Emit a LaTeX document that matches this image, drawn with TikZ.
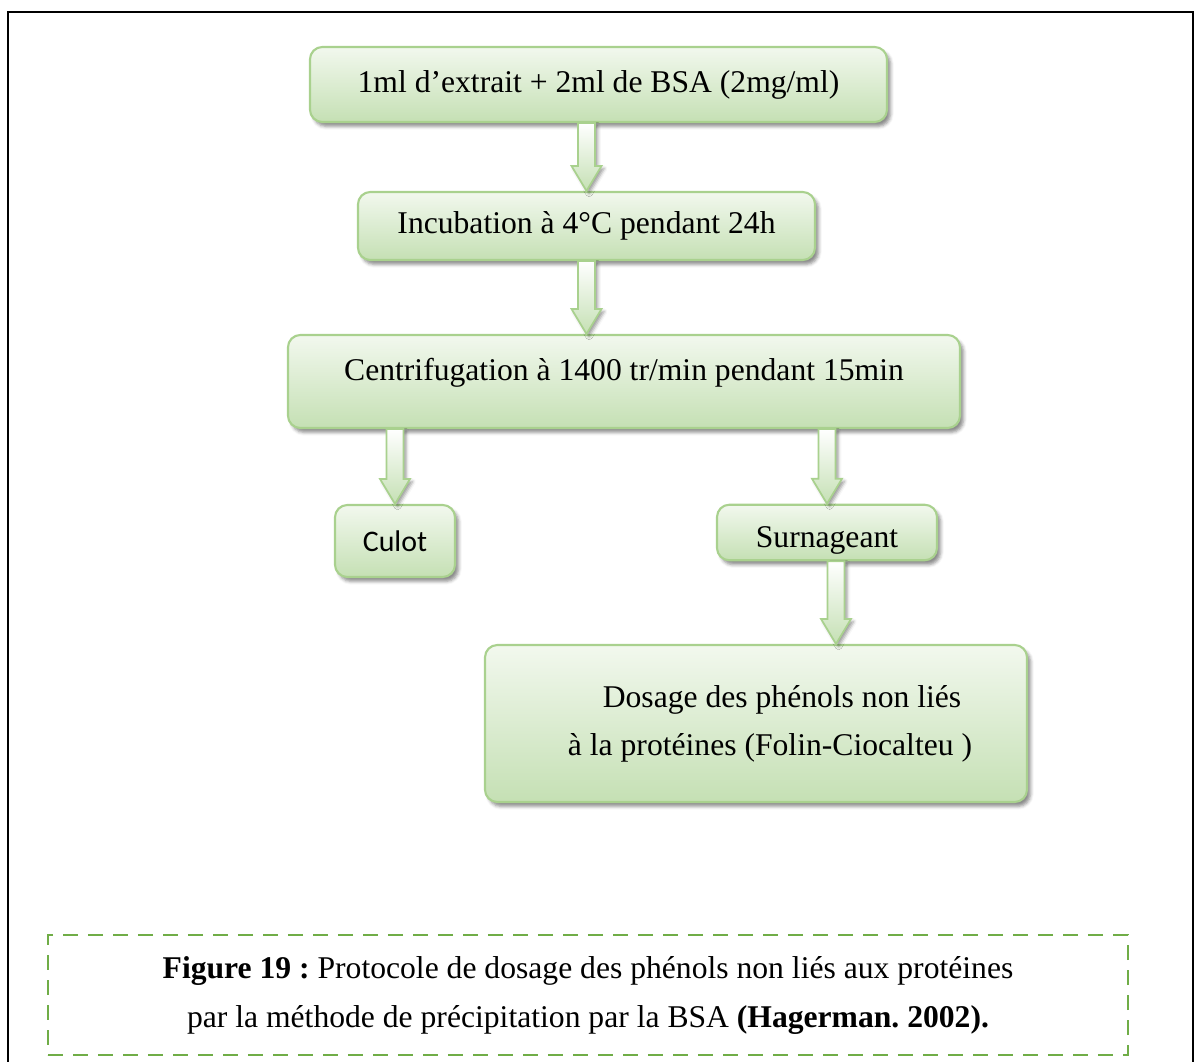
\documentclass[tikz,border=0pt]{standalone}
\usepackage{fontspec}
\setmainfont{Liberation Serif}
\newfontfamily\calibri{Carlito}
\usetikzlibrary{calc,shadows.blur}
\frenchspacing

\definecolor{boxtop}{HTML}{F2F8EE}
\definecolor{boxbot}{HTML}{C5E0B4}
\definecolor{boxline}{HTML}{A9D18E}
\definecolor{dashgreen}{HTML}{70AD47}

% block arrow between two named points
\newcommand{\flarrow}[2]{%
  \draw[arrowbox] ($(#1)+(-0.17,0)$) -- ($(#2)+(-0.17,0.5)$) -- ($(#2)+(-0.3,0.5)$)
    -- (#2) -- ($(#2)+(0.3,0.5)$) -- ($(#2)+(0.17,0.5)$) -- ($(#1)+(0.17,0)$) -- cycle;}

\begin{document}
\begin{tikzpicture}[every node/.style={font=\fontsize{18}{22}\selectfont},
  stepbox/.style={draw=boxline, line width=1.2pt, rounded corners=7pt,
    top color=boxtop, bottom color=boxbot,
    blur shadow={shadow xshift=2pt, shadow yshift=-2.5pt, shadow blur steps=4, shadow opacity=45}},
  arrowbox/.style={draw=boxline, line width=1pt, top color=white, bottom color=boxbot,
    blur shadow={shadow xshift=1.5pt, shadow yshift=-1.5pt, shadow blur steps=3, shadow opacity=40}}]
  \useasboundingbox (0,0) rectangle (24,-21.22);

  % outer frame
  \draw[line width=1.4pt] (0.16,-21.5) |- (23.86,-0.24) -- (23.86,-21.5);

  % steps
  \node[stepbox, minimum width=11.54cm, minimum height=1.5cm] (extrait) at (11.97,-1.69)
    {1ml d'extrait + 2ml de BSA (2mg/ml)};
  \node[stepbox, minimum width=9.14cm, minimum height=1.36cm] (incub) at (11.73,-4.52)
    {Incubation à 4°C pendant 24h};
  \node[stepbox, minimum width=13.44cm, minimum height=1.86cm, text depth=0.5cm] (centri) at (12.48,-7.63)
    {Centrifugation à 1400 tr/min pendant 15min};
  \node[stepbox, minimum width=2.4cm, minimum height=1.44cm, font=\calibri\fontsize{17}{20}\selectfont] (culot) at (7.9,-10.82)
    {Culot};
  \node[stepbox, minimum width=4.4cm, minimum height=1.1cm, text height=0.74cm] (surn) at (16.54,-10.65)
    {Surnageant};
  \node[stepbox, minimum width=10.84cm, minimum height=3.14cm] (dosage) at (15.12,-14.47) {};
  \node[align=center, font=\fontsize{18}{27.5}\selectfont] (dosagetxt) at (15.4,-14.48)
    {\hspace*{0.48cm}Dosage des phénols non liés\\ à la protéines (Folin-Ciocalteu )};

  % arrows
  \flarrow{extrait.south -| incub.north}{incub.north}
  \flarrow{incub.south}{centri.north -| incub.south}
  \flarrow{centri.south -| culot.north}{culot.north}
  \flarrow{centri.south -| surn.north}{surn.north}
  \coordinate (s5) at ($(surn.south)+(0.18,0)$);
  \flarrow{s5}{dosage.north -| s5}

  % caption
  \node[draw=dashgreen, line width=1.6pt, dash pattern=on 0.3cm off 0.2cm,
    minimum width=21.6cm, minimum height=2.4cm] (capbox) at (11.76,-19.9) {};
  \node[align=center, font=\fontsize{18}{28}\selectfont] (caption) at (11.76,-19.91)
    {\textbf{Figure 19 :} Protocole de dosage des phénols non liés aux protéines\\
     par la méthode de précipitation par la BSA \textbf{(Hagerman. 2002).}};
\end{tikzpicture}
\end{document}
